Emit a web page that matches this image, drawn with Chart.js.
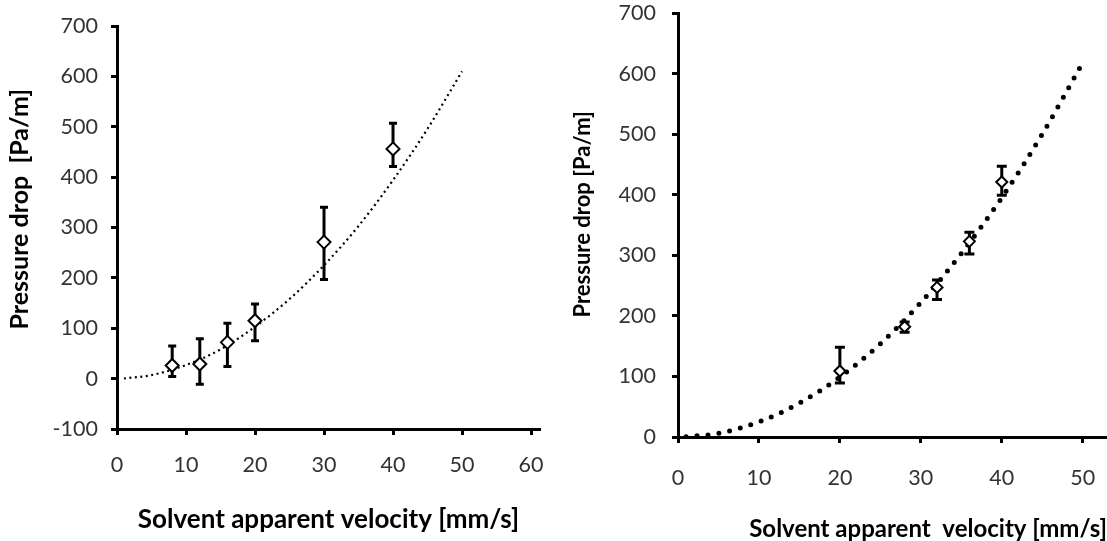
<!DOCTYPE html>
<html><head><meta charset="utf-8">
<script src="https://cdn.jsdelivr.net/npm/chart.js@4"></script>
<style>
html,body{margin:0;padding:0;background:#fff;overflow:hidden;width:1107px;height:541px}
#cL{position:absolute;left:0;top:0}
#cR{position:absolute;left:555px;top:0}
</style></head><body>
<canvas id="cL" width="560" height="541"></canvas>
<canvas id="cR" width="552" height="541"></canvas>
<script>
// ---- Left panel data ----
const leftVelocity = [8, 12, 16, 20, 30, 40];
const leftPressure = [26, 29, 72, 115, 271, 456];
const leftErrLow   = [4, -11, 24, 75, 197, 421];
const leftErrHigh  = [65, 79, 110, 148, 340, 507];
const leftFitX = [1, 5, 10, 15, 20, 25, 30, 35, 40, 45, 50];
const leftFitY = [0.3, 7, 27, 58, 103, 158, 225, 303, 394, 496, 610];
const leftXTicks = [0, 10, 20, 30, 40, 50, 60];
const leftYTicks = [-100, 0, 100, 200, 300, 400, 500, 600, 700];

// ---- Right panel data ----
const rightVelocity = [20, 28, 32, 36, 40];
const rightPressure = [109, 182, 247, 323, 421];
const rightErrLow   = [89, 173, 227, 302, 399];
const rightErrHigh  = [148, 190, 259, 338, 447];
const rightFitX = [1, 5, 10, 15, 20, 25, 30, 35, 40, 45, 50];
const rightFitY = [0.3, 6, 25, 56, 99, 154, 222, 303, 395, 500, 618];
const rightXTicks = [0, 10, 20, 30, 40, 50];
const rightYTicks = [0, 100, 200, 300, 400, 500, 600, 700];

const FONT = 'Lato, "Open Sans", sans-serif';

const errorBars = {
  id: 'errorBars',
  beforeDatasetDraw(chart, args) {
    const ds = chart.data.datasets[args.index];
    if (!ds.errLow) return;
    const xs = chart.scales.x, ys = chart.scales.y, ctx = chart.ctx;
    ctx.save();
    ctx.strokeStyle = '#000';
    ctx.lineWidth = ds.errWidth;
    ctx.lineCap = 'butt';
    ds.data.forEach((p, i) => {
      const px = xs.getPixelForValue(p.x);
      const yl = ys.getPixelForValue(ds.errLow[i]);
      const yh = ys.getPixelForValue(ds.errHigh[i]);
      const c = ds.capHalf;
      ctx.beginPath();
      ctx.moveTo(px, yl); ctx.lineTo(px, yh);
      ctx.moveTo(px - c, yl); ctx.lineTo(px + c, yl);
      ctx.moveTo(px - c, yh); ctx.lineTo(px + c, yh);
      ctx.stroke();
    });
    ctx.restore();
  }
};

function zip(xs, ys) { return xs.map((x, i) => ({x, y: ys[i]})); }

function makeChart(id, cfg) {
  return new Chart(document.getElementById(id), {
    type: 'scatter',
    data: {
      datasets: [
        {
          label: 'measured',
          data: zip(cfg.vx, cfg.vy),
          errLow: cfg.lo, errHigh: cfg.hi, errWidth: 3, capHalf: cfg.cap,
          pointStyle: 'rectRot',
          pointRadius: cfg.pr,
          pointHoverRadius: cfg.pr,
          pointBackgroundColor: '#fff',
          pointBorderColor: '#000',
          pointBorderWidth: 2,
          showLine: false
        },
        {
          label: 'fit',
          data: zip(cfg.fx, cfg.fy),
          showLine: true,
          pointRadius: 0,
          borderColor: '#000',
          borderWidth: cfg.lw,
          borderDash: cfg.dash,
          borderCapStyle: cfg.cap2,
          cubicInterpolationMode: 'monotone',
          fill: false
        }
      ]
    },
    options: {
      responsive: false,
      animation: false,
      events: [],
      layout: { padding: cfg.padding, autoPadding: false },
      plugins: { legend: { display: false }, tooltip: { enabled: false } },
      scales: {
        x: {
          type: 'linear',
          min: cfg.xmin, max: cfg.xmax,
          afterBuildTicks: s => { s.ticks = cfg.xt.map(v => ({value: v})); },
          afterFit: s => { s.height = cfg.xh; s.paddingLeft = 0; s.paddingRight = 0; },
          border: { display: true, color: '#000', width: 3 },
          grid: { display: true, drawOnChartArea: false, drawTicks: true, tickLength: 6, tickWidth: 3, tickColor: '#000' },
          ticks: { color: '#333', font: { family: FONT, size: cfg.tfs }, padding: cfg.xpad, maxRotation: 0 },
          title: { display: true, text: cfg.xtitle, align: cfg.xalign, color: '#000',
                   font: { family: FONT, size: cfg.xfs, weight: 'bold' }, padding: { top: 0, bottom: cfg.xtb } }
        },
        y: {
          type: 'linear',
          min: cfg.ymin, max: cfg.ymax,
          afterBuildTicks: s => { s.ticks = cfg.yt.map(v => ({value: v})); },
          afterFit: s => { s.width = cfg.yw; s.paddingTop = 0; s.paddingBottom = 0; },
          border: { display: true, color: '#000', width: 3 },
          grid: { display: true, drawOnChartArea: false, drawTicks: true, tickLength: 6, tickWidth: 3, tickColor: '#000' },
          ticks: { color: '#333', font: { family: FONT, size: cfg.tfs }, padding: cfg.ypad },
          title: { display: true, text: cfg.ytitle, color: '#000',
                   font: { family: FONT, size: cfg.yfs, weight: 'bold' }, padding: { top: cfg.ytp, bottom: 0 } }
        }
      }
    },
    plugins: [errorBars]
  });
}

makeChart('cL', {
  vx: leftVelocity, vy: leftPressure, lo: leftErrLow, hi: leftErrHigh,
  fx: leftFitX, fy: leftFitY,
  pr: 6.5, cap: 4, lw: 2.2, dash: [2, 3.5], cap2: 'butt',
  xmin: 0, xmax: 61.3, xt: leftXTicks, ymin: -100, ymax: 700, yt: leftYTicks,
  padding: { left: 0, right: 20, top: 26, bottom: 0 },
  xh: 112, yw: 117, tfs: 21.5, xpad: 17, ypad: 13,
  xtitle: 'Solvent apparent velocity [mm/s]', xalign: 'center', xfs: 26, xtb: 6,
  ytitle: '      Pressure drop  [Pa/m]', yfs: 25, ytp: 5
});

makeChart('cR', {
  vx: rightVelocity, vy: rightPressure, lo: rightErrLow, hi: rightErrHigh,
  fx: rightFitX, fy: rightFitY,
  pr: 5.5, cap: 5, lw: 5, dash: [0, 11], cap2: 'round',
  xmin: 0, xmax: 53, xt: rightXTicks, ymin: 0, ymax: 700, yt: rightYTicks,
  padding: { left: 0, right: 0, top: 13, bottom: 0 },
  xh: 104, yw: 123, tfs: 21.5, xpad: 22, ypad: 16,
  xtitle: 'Solvent apparent  velocity [mm/s]', xalign: 'end', xfs: 24, xtb: -3,
  ytitle: '    Pressure drop [Pa/m]', yfs: 22, ytp: 15
});
</script>
</body></html>
